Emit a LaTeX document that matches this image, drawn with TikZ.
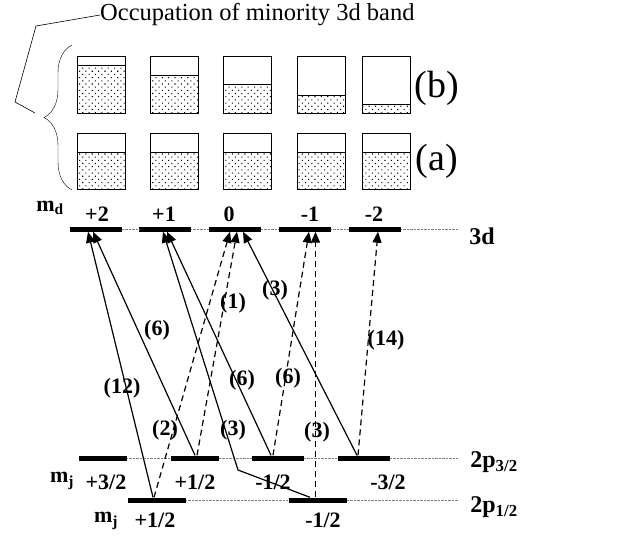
\documentclass[tikz,border=0pt]{standalone}
\usepackage{fontspec}
\setmainfont{Liberation Serif}
\usetikzlibrary{arrows.meta, positioning, patterns.meta, decorations.pathreplacing}

\begin{document}
\begin{tikzpicture}[x=1pt, y=-1pt, >={Triangle[length=11pt, width=9pt]},
  level/.style={fill=black, inner sep=0pt, minimum height=5pt, minimum width=52pt},
  lab/.style={font=\bfseries\fontsize{22}{22}\selectfont, inner sep=0pt},
  big/.style={font=\bfseries\fontsize{24}{24}\selectfont, inner sep=0pt},
  tr/.style={->, line width=1.2pt},
  dsh/.style={dash pattern=on 6pt off 4pt},
  guide/.style={densely dotted, gray, thin},
  cell/.style={draw, line width=0.8pt},
  filled/.style={pattern={Dots[distance=4.5pt, radius=0.75pt, angle=45]}}]
  \useasboundingbox (0,0) rectangle (617,539);

  % Occupation of the minority band, rows (b) and (a)
  \foreach \x/\lb in {77/65, 150/75, 223/84, 297/95, 362/104} {
    \fill[filled] (\x,\lb) rectangle (\x+48,113);
    \draw[cell] (\x,\lb) -- (\x+48,\lb);
    \draw[cell] (\x,56) rectangle (\x+48,113);
    \fill[filled] (\x,152) rectangle (\x+48,189);
    \draw[cell] (\x,152) -- (\x+48,152);
    \draw[cell] (\x,133) rectangle (\x+48,189);
  }
  \node[font=\fontsize{38}{38}\selectfont] (rowb) at (437,88) {(b)};
  \node[font=\fontsize{38}{38}\selectfont] (rowa) at (437,161) {(a)};
  \draw[thin, decorate, decoration={brace, amplitude=28pt}] (72,190) -- (72,45);

  \node[font=\fontsize{24.5}{24.5}\selectfont, inner sep=0pt, anchor=west] (occ) at (100,15) {Occupation of minority 3d band};
  \coordinate (tip) at (35,113);
  \draw[semithick] (occ.west) -- (36,26) -- (15,102) -- (tip);

  % 3d levels
  \node[level] (d2)  at (95.5,229) {};
  \node[level] (d1)  at (165,229)  {};
  \node[level] (d0)  at (234.5,229) {};
  \node[level] (dm1) at (305,229)  {};
  \node[level] (dm2) at (375,229)  {};
  \coordinate (dend) at (458,229);
  \draw[guide] (d2.east) -- (d1.west) (d1.east) -- (d0.west) (d0.east) -- (dm1.west)
               (dm1.east) -- (dm2.west) (dm2.east) -- (dend);
  \node[lab] (md) at (50,208) {m\textsubscript{d}};
  \node[lab] at (97,214)  {+2};
  \node[lab] at (164,214) {+1};
  \node[lab] at (229,214) {0};
  \node[lab] at (310,214) {-1};
  \node[lab] at (374,214) {-2};
  \node[big] (l3d) at (482,236) {3d};

  % 2p3/2 levels
  \node[level, minimum width=48pt] (pa) at (103,458)   {};
  \node[level, minimum width=48pt] (pb) at (194.5,458) {};
  \node[level] (pc) at (277.5,458) {};
  \node[level] (pd) at (363.5,458) {};
  \coordinate (pend) at (458,458);
  \draw[guide] (pa.east) -- (pb.west) (pb.east) -- (pc.west) (pc.east) -- (pd.west) (pd.east) -- (pend);
  \node[lab] (mj1) at (62,481) {m\textsubscript{j}};
  \node[lab] at (106,482) {+3/2};
  \node[lab] at (195,482) {+1/2};
  \node[lab] at (273,482) {-1/2};
  \node[lab] at (388,482) {-3/2};
  \node[big] (l32) at (494,462) {2p\textsubscript{3/2}};

  % 2p1/2 levels
  \node[level, minimum width=58pt] (qa) at (157,500)   {};
  \node[level, minimum width=58pt] (qb) at (317.5,500) {};
  \coordinate (qend) at (458,500);
  \draw[guide] (qa.east) -- (qb.west) (qb.east) -- (qend);
  \node[lab] (mj2) at (106,521) {m\textsubscript{j}};
  \node[lab] at (155,520) {+1/2};
  \node[lab] at (323,520) {-1/2};
  \node[big] (l12) at (494,507) {2p\textsubscript{1/2}};

  % solid transitions
  \draw[tr] ([xshift=-4pt]qa.north) -- ([xshift=-7.5pt]d2.south);
  \draw[tr] ([xshift=0.5pt]pb.north) -- ([xshift=-2.5pt]d2.south);
  \coordinate (kink) at (238,470);
  \draw[tr] ([xshift=-7.5pt]qb.north) -- (kink) -- ([xshift=-2pt]d1.south);
  \draw[tr] ([xshift=-6.5pt]pc.north) -- ([xshift=2pt]d1.south);
  \draw[tr] ([xshift=-6.5pt]pd.north) -- ([xshift=8.5pt]d0.south);

  % dashed transitions
  \draw[tr, dsh] ([xshift=-3pt]qa.north) -- ([xshift=-4.5pt]d0.south);
  \draw[tr, dsh] ([xshift=2.5pt]pb.north) -- ([xshift=2.5pt]d0.south);
  \draw[tr, dsh] ([xshift=-4.5pt]pc.north) -- ([xshift=4pt]dm1.south);
  \draw[tr, dsh] ([xshift=-2pt]qb.north) -- ([xshift=10.5pt]dm1.south);
  \draw[tr, dsh] ([xshift=-5.5pt]pd.north) -- ([xshift=3pt]dm2.south);

  % relative intensities
  \node[lab] at (122,388) {(12)};
  \node[lab] at (157,330) {(6)};
  \node[lab] at (233,303) {(1)};
  \node[lab] at (275,290) {(3)};
  \node[lab] at (386,340) {(14)};
  \node[lab] at (242,380) {(6)};
  \node[lab] at (288,378) {(6)};
  \node[lab] at (165,430) {(2)};
  \node[lab] at (233,430) {(3)};
  \node[lab] at (317,432) {(3)};
\end{tikzpicture}
\end{document}
